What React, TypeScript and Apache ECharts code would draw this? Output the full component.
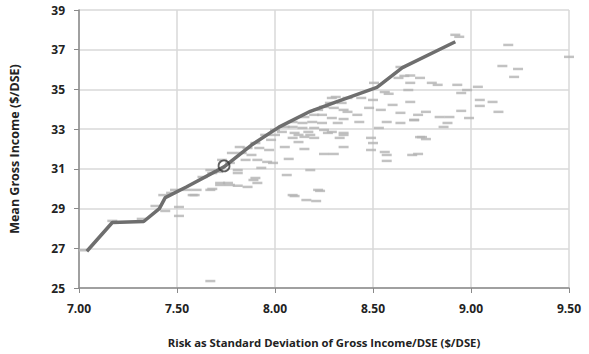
import React, { useEffect, useRef } from "react";
import * as echarts from "echarts";

const xTicks = [7.0, 7.5, 8.0, 8.5, 9.0, 9.5];
const yTicks = [25, 27, 29, 31, 33, 35, 37, 39];

// Efficient frontier (risk, mean)
const frontierRisk = [7.04, 7.17, 7.33, 7.41, 7.44, 7.55, 7.74, 7.88, 8.02, 8.18, 8.32, 8.52, 8.65, 8.92];
const frontierMean = [26.85, 28.3, 28.35, 29.0, 29.55, 30.1, 31.1, 32.2, 33.1, 33.9, 34.4, 35.1, 36.1, 37.4];

// Selected portfolio (circle)
const selectedRisk = [7.74];
const selectedMean = [31.15];

// Individual portfolios (risk)
const portRisk = [
  9.5, 9.19, 9.16, 9.24, 9.22, 8.92, 8.94, 8.69, 8.74, 8.8, 8.83, 8.93, 8.98, 8.95, 9.035, 9.045, 9.11, 9.045,
  8.95, 9.14, 8.99, 8.89, 8.84, 8.88, 8.86, 8.77, 8.73, 8.71, 8.75, 8.77,
  8.64, 8.66, 8.63, 8.69, 8.68, 8.56, 8.58, 8.505, 8.69, 8.6, 8.5, 8.48, 8.54, 8.64, 8.71, 8.64, 8.57, 8.53,
  8.43, 8.42, 8.35, 8.35, 8.32, 8.31, 8.29, 8.44, 8.37, 8.34, 8.28, 8.25, 8.3, 8.35, 8.37, 8.22, 8.2, 8.24,
  8.29, 8.19, 8.24, 8.15, 8.14, 8.09, 8.09, 8.14, 8.2, 8.25, 8.05, 8.035, 8.1, 8.17, 8.29, 8.09, 8.15, 8.2, 8.0,
  8.12, 8.18, 8.27, 8.35, 8.33, 8.49, 8.5, 8.49, 8.35, 8.3, 8.25, 8.15, 8.12, 8.05, 8.07, 8.18, 8.06, 8.23, 8.1,
  8.21, 8.56, 8.57, 8.57, 8.7, 8.73, 8.74,
  8.0, 7.95, 7.98, 7.9, 7.86, 7.82, 7.92, 7.97, 7.83, 7.88, 7.78, 7.85, 7.91, 7.96, 7.99, 7.93, 7.73, 7.77,
  7.81, 7.81, 7.67, 7.68, 7.71, 7.63, 7.72, 7.76, 7.89, 7.91, 7.67, 7.6, 7.49, 7.55, 7.58, 7.47, 7.43,
  7.9, 8.09, 8.22, 8.16,
  7.025, 7.17, 7.32, 7.39, 7.44, 7.51, 7.51, 7.59, 7.68, 7.72, 7.77, 7.81, 7.86, 7.67,
];

// Individual portfolios (mean)
const portMean = [
  36.64, 37.24, 36.18, 36.03, 35.63, 37.75, 37.65, 35.7, 35.58, 35.33, 35.23, 35.23, 34.97, 34.82, 35.13, 34.47, 34.37, 34.17,
  33.92, 33.87, 33.56, 33.61, 33.61, 33.31, 33.11, 33.87, 33.72, 33.46, 32.6, 32.5,
  36.13, 35.68, 35.58, 35.33, 34.97, 34.87, 34.78, 35.33, 34.37, 34.22, 34.47, 34.07, 33.97, 33.82, 33.46, 33.31, 33.36, 33.06,
  33.36, 33.72, 33.51, 32.81, 33.31, 34.62, 34.57, 34.57, 34.57, 34.32, 34.32, 34.12, 34.07, 33.97, 33.87, 33.97, 33.72, 33.72,
  33.56, 33.36, 33.31, 33.61, 33.31, 33.36, 33.11, 33.06, 33.06, 32.96, 33.11, 32.86, 32.81, 32.86, 32.86, 32.56, 32.61, 32.56, 32.71,
  32.71, 32.71, 32.81, 32.71, 32.56, 32.56, 32.3, 31.95, 32.1, 31.75, 31.75, 32.0, 32.35, 32.1, 31.5, 30.94, 30.69, 29.89, 29.63,
  29.38, 31.85, 31.7, 31.4, 31.7, 31.75, 32.6,
  32.96, 32.71, 32.46, 32.3, 32.05, 32.1, 32.05, 31.95, 31.8, 31.7, 31.8, 31.45, 31.45, 31.35, 31.3, 31.05, 31.45, 31.3,
  30.94, 30.79, 30.94, 30.79, 30.85, 30.59, 30.29, 30.29, 30.44, 30.29, 29.94, 29.94, 29.94, 29.94, 29.68, 29.79, 29.68,
  30.54, 29.68, 29.94, 29.43,
  26.9, 28.38, 28.48, 29.13, 28.88, 29.08, 28.63, 29.68, 29.99, 30.19, 30.19, 30.15, 30.09, 25.35,
];

const FONT = "'Open Sans', 'Liberation Sans', sans-serif";

export default function App() {
  const ref = useRef<HTMLDivElement>(null);

  useEffect(() => {
    if (!ref.current) return;
    const chart = echarts.init(ref.current, undefined, { renderer: "svg" });
    const portfolios = portRisk.map((x, i) => [x, portMean[i]]);
    const frontier = frontierRisk.map((x, i) => [x, frontierMean[i]]);
    const selected = selectedRisk.map((x, i) => [x, selectedMean[i]]);

    chart.setOption({
      animation: false,
      backgroundColor: "#ffffff",
      grid: { left: 75, right: 20, top: 10, bottom: 66 },
      xAxis: {
        type: "value",
        min: xTicks[0],
        max: xTicks[xTicks.length - 1],
        interval: 0.5,
        name: "Risk as Standard Deviation of Gross Income/DSE ($/DSE)",
        nameLocation: "middle",
        nameGap: 49,
        nameTextStyle: { fontFamily: FONT, fontWeight: "bold", fontSize: 11.3, color: "#222" },
        axisLine: { show: true, lineStyle: { color: "#8a8a8a", width: 1.5 } },
        axisTick: { show: true, length: 5, lineStyle: { color: "#8a8a8a", width: 1 } },
        axisLabel: {
          margin: 14,
          fontFamily: FONT,
          fontWeight: "bold",
          fontSize: 12,
          color: "#222",
          formatter: (v: number) => v.toFixed(2),
        },
        splitLine: { show: true, lineStyle: { color: "#d9d9d9", width: 1.5 } },
      },
      yAxis: {
        type: "value",
        min: yTicks[0],
        max: yTicks[yTicks.length - 1],
        interval: 2,
        name: "Mean Gross Income ($/DSE)",
        nameLocation: "middle",
        nameGap: 58,
        nameTextStyle: { fontFamily: FONT, fontWeight: "bold", fontSize: 12.5, color: "#222" },
        axisLine: { show: true, lineStyle: { color: "#8a8a8a", width: 1.5 } },
        axisTick: { show: true, length: 5, lineStyle: { color: "#8a8a8a", width: 1 } },
        axisLabel: { margin: 14, fontFamily: FONT, fontWeight: "bold", fontSize: 12, color: "#222" },
        splitLine: { show: true, lineStyle: { color: "#d9d9d9", width: 1.5 } },
      },
      series: [
        {
          type: "scatter",
          data: portfolios,
          symbol: "rect",
          symbolSize: [10, 2.5],
          itemStyle: { color: "#b3b3b3" },
          z: 2,
        },
        {
          type: "line",
          data: frontier,
          showSymbol: false,
          lineStyle: { color: "#6e6e6e", width: 3.5 },
          z: 3,
        },
        {
          type: "scatter",
          data: selected,
          symbol: "circle",
          symbolSize: 11,
          itemStyle: { color: "rgba(255,255,255,0)", borderColor: "#3a3a3a", borderWidth: 1.8 },
          z: 4,
        },
      ],
    });
    return () => chart.dispose();
  }, []);

  return (
    <div
      ref={ref}
      style={{ position: "fixed", left: 0, top: 0, width: 589, height: 354, background: "#fff" }}
    />
  );
}
